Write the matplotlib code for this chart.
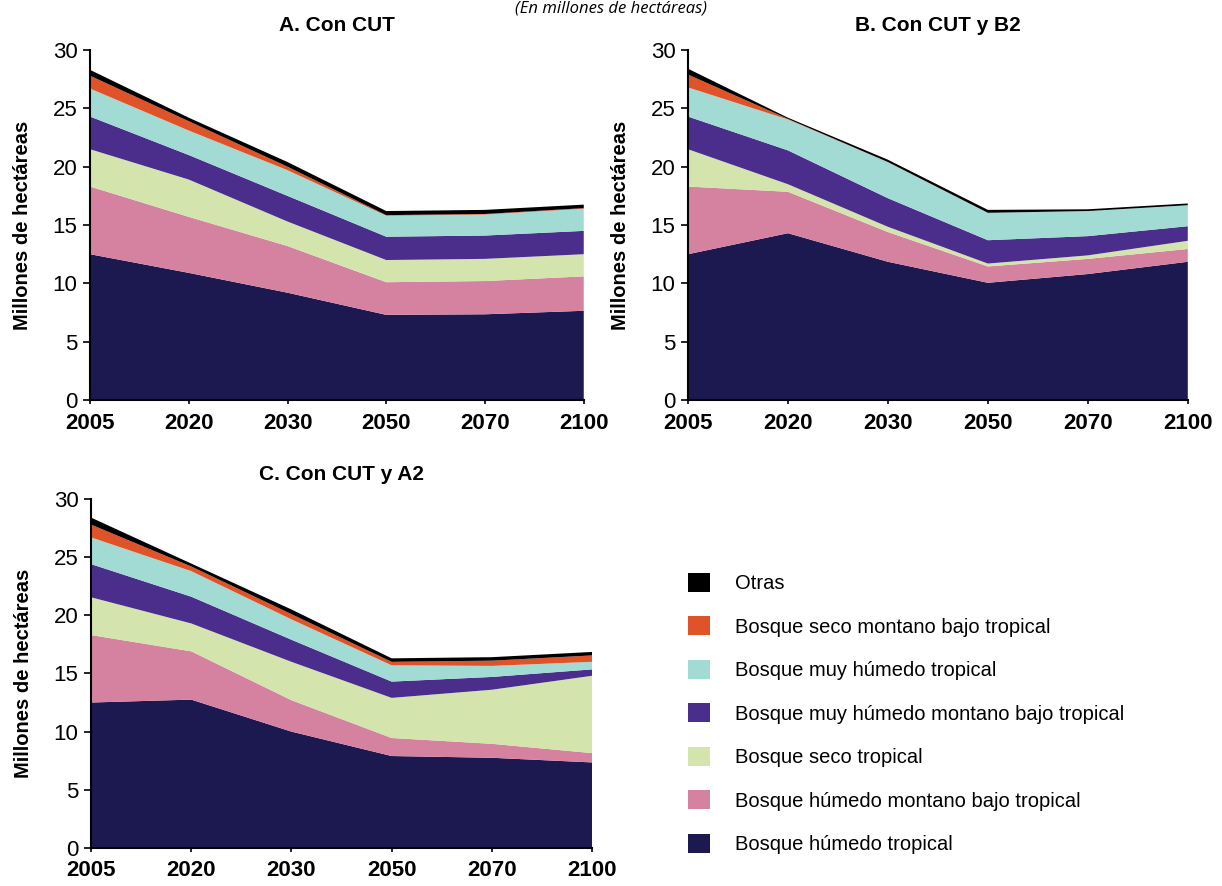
import numpy as np
import matplotlib
matplotlib.use('Agg')
import matplotlib.pyplot as plt
from matplotlib.patches import Patch

plt.rcParams['font.family'] = ['Liberation Sans', 'DejaVu Sans']

years = ['2005', '2020', '2030', '2050', '2070', '2100']

# stacking order, bottom to top
series = ['Bosque húmedo tropical',
          'Bosque húmedo montano bajo tropical',
          'Bosque seco tropical',
          'Bosque muy húmedo montano bajo tropical',
          'Bosque muy húmedo tropical',
          'Bosque seco montano bajo tropical',
          'Otras']
colors = ['#1c1850', '#d582a0', '#d3e4ac', '#4b2d8c', '#a1dbd3', '#e05227', '#000000']

# millones de hectáreas, one row per series (same order as above)
con_cut = [[12.5, 10.9, 9.2, 7.3, 7.35, 7.65],
           [5.8, 4.8, 4.0, 2.8, 2.85, 2.95],
           [3.2, 3.2, 2.1, 1.9, 1.9, 1.9],
           [2.8, 2.1, 2.2, 2.0, 2.0, 2.0],
           [2.4, 2.1, 2.2, 1.8, 1.8, 1.9],
           [1.1, 0.8, 0.3, 0.05, 0.05, 0.05],
           [0.5, 0.3, 0.4, 0.35, 0.35, 0.3]]

con_cut_b2 = [[12.5, 14.3, 11.85, 10.05, 10.8, 11.85],
              [5.8, 3.55, 2.55, 1.4, 1.3, 1.1],
              [3.2, 0.65, 0.45, 0.25, 0.3, 0.7],
              [2.8, 2.9, 2.45, 2.0, 1.65, 1.25],
              [2.5, 2.65, 3.1, 2.35, 2.15, 1.8],
              [1.1, 0.05, 0.0, 0.0, 0.0, 0.0],
              [0.5, 0.1, 0.2, 0.25, 0.15, 0.15]]

con_cut_a2 = [[12.5, 12.75, 10.0, 7.9, 7.75, 7.35],
              [5.8, 4.15, 2.7, 1.55, 1.2, 0.8],
              [3.25, 2.4, 3.3, 3.45, 4.65, 6.65],
              [2.85, 2.3, 1.9, 1.4, 1.1, 0.55],
              [2.3, 2.2, 1.75, 1.4, 0.95, 0.65],
              [1.1, 0.4, 0.45, 0.3, 0.45, 0.55],
              [0.6, 0.25, 0.4, 0.3, 0.3, 0.3]]

titles = ['A. Con CUT', 'B. Con CUT y B2', 'C. Con CUT y A2']
positions = [[0.0737, 0.5485, 0.404, 0.395],
             [0.563, 0.5485, 0.409, 0.395],
             [0.0745, 0.043, 0.41, 0.3938]]

fig = plt.figure(figsize=(12.22, 8.86), dpi=100)

fig.text(0.5, 0.999, '(En millones de hectáreas)', ha='center', va='top',
         fontsize=12, style='italic', family=['Open Sans', 'DejaVu Sans'])

x = np.arange(len(years))
for data, title, pos in zip([con_cut, con_cut_b2, con_cut_a2], titles, positions):
    ax = fig.add_axes(pos)
    ax.stackplot(x, np.array(data), colors=colors, linewidth=0)
    ax.set_xlim(0, len(years) - 1)
    ax.set_ylim(0, 30)
    ax.set_xticks(x)
    ax.set_xticklabels(years, fontsize=16, fontweight='bold')
    ax.set_yticks(range(0, 31, 5))
    ax.tick_params(axis='y', labelsize=16, length=5, width=1.2, pad=4)
    ax.tick_params(axis='x', length=3, width=1.2, pad=6)
    for s in ['top', 'right']:
        ax.spines[s].set_visible(False)
    for s in ['left', 'bottom']:
        ax.spines[s].set_linewidth(1.5)
    ax.set_ylabel('Millones de hectáreas', fontsize=14.5, fontweight='bold', labelpad=15)
    ax.set_title(title, fontsize=15, fontweight='bold', pad=14)

handles = [Patch(facecolor=c, edgecolor='none') for c in colors][::-1]
fig.legend(handles, series[::-1], loc='upper left', bbox_to_anchor=(0.5545, 0.365),
           frameon=False, fontsize=14.5, handlelength=1.1, handleheight=1.1,
           handletextpad=1.25, labelspacing=1.14, borderpad=0)

fig.savefig('out.png', dpi=100)
